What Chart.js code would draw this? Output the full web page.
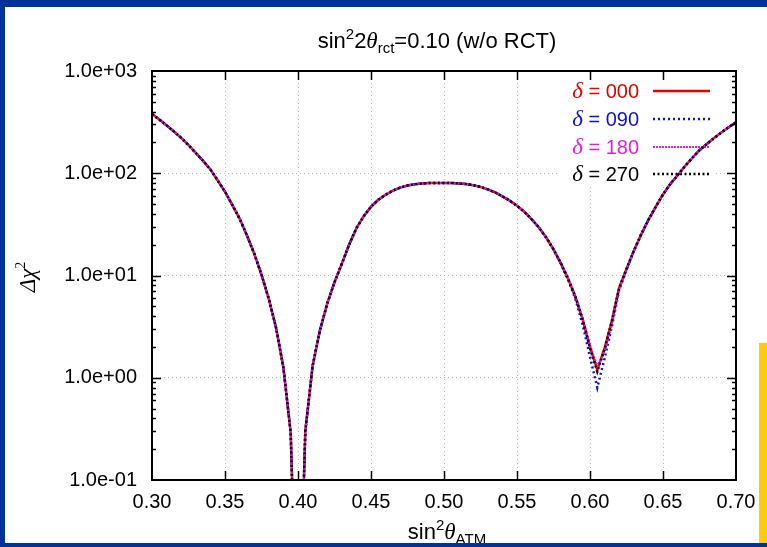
<!DOCTYPE html>
<html>
<head>
<meta charset="utf-8">
<script src="https://cdn.jsdelivr.net/npm/chart.js@4.4.1/dist/chart.umd.min.js"></script>
<style>
  html, body { margin: 0; padding: 0; background: #fff; }
  #wrap { position: relative; width: 767px; height: 547px; overflow: hidden; }
  #plot { position: absolute; left: 0; top: 0; }
  #frame { position: absolute; left: 0; top: 0; width: 762px; height: 536px;
    border-top: 7px solid #003399; border-left: 5px solid #003399; border-bottom: 4px solid #003399;
    pointer-events: none; }
  #bar { position: absolute; left: 759px; top: 343px; width: 8px; height: 200px; background: #ffcc00; }
</style>
</head>
<body>
<div id="wrap">
  <canvas id="plot" width="767" height="547"></canvas>
  <div id="frame"></div>
  <div id="bar"></div>
</div>
<script>
// sin^2 theta_ATM sample points
const sinAtm = [
  0.300, 0.305, 0.310, 0.315, 0.320, 0.325, 0.330, 0.335, 0.340, 0.345,
  0.350, 0.355, 0.360, 0.365, 0.370, 0.375, 0.380, 0.385, 0.390, 0.395,
  0.400, 0.405, 0.410, 0.415, 0.420, 0.425, 0.430, 0.435, 0.440, 0.445,
  0.450, 0.455, 0.460, 0.465, 0.470, 0.475, 0.480, 0.485, 0.490, 0.495,
  0.500, 0.505, 0.510, 0.515, 0.520, 0.525, 0.530, 0.535, 0.540, 0.545,
  0.550, 0.555, 0.560, 0.565, 0.570, 0.575, 0.580, 0.585, 0.590, 0.595,
  0.600, 0.605, 0.610, 0.615, 0.620, 0.625, 0.630, 0.635, 0.640, 0.645,
  0.650, 0.655, 0.660, 0.665, 0.670, 0.675, 0.680, 0.685, 0.690, 0.695,
  0.700];

// delta chi^2 for each delta value
const delta000 = [
  380, 335, 294, 256, 222, 188, 158, 132, 109, 85,
  66, 49, 36, 24.7, 16.4, 10.2, 5.9, 3.07, 1.26, 0.29,
  0.001, 0.30, 1.30, 2.9, 5.3, 8.6, 13, 20, 29, 38,
  47, 55, 61.7, 67.6, 72.4, 75.9, 78.2, 79.4, 80.2, 80.5,
  80.5, 80.3, 79.6, 78.4, 76.5, 73.5, 69.5, 65, 59.5, 54,
  48, 42, 35.5, 29.5, 23.5, 18, 13.2, 9.3, 6.2, 3.7,
  2.0, 1.2, 1.95, 3.6, 7.6, 11.6, 17.4, 25.1, 35, 47,
  62, 78.5, 95.5, 117, 141, 168, 193, 221, 251, 282,
  316];
const delta090 = [
  380, 335, 294, 256, 222, 188, 158, 132, 109, 85,
  66, 49, 36, 24.7, 16.4, 10.2, 5.9, 3.07, 1.26, 0.29,
  0.001, 0.30, 1.30, 2.9, 5.3, 8.6, 13, 20, 29, 38,
  47, 55, 61.7, 67.6, 72.4, 75.9, 78.2, 79.4, 80.2, 80.5,
  80.5, 80.3, 79.6, 78.4, 76.5, 73.5, 69.5, 65, 59.5, 54,
  48, 42, 35.5, 29.5, 23.5, 18, 13.0, 9.1, 5.9, 3.3,
  1.6, 0.8, 1.55, 3.2, 7.2, 11.3, 17.4, 25.1, 35, 47,
  62, 78.5, 95.5, 117, 141, 168, 193, 221, 251, 282,
  316];
const delta180 = [
  380, 335, 294, 256, 222, 188, 158, 132, 109, 85,
  66, 49, 36, 24.7, 16.4, 10.2, 5.9, 3.07, 1.26, 0.29,
  0.001, 0.30, 1.30, 2.9, 5.3, 8.6, 13, 20, 29, 38,
  47, 55, 61.7, 67.6, 72.4, 75.9, 78.2, 79.4, 80.2, 80.5,
  80.5, 80.3, 79.6, 78.4, 76.5, 73.5, 69.5, 65, 59.5, 54,
  48, 42, 35.5, 29.5, 23.5, 18, 13.2, 9.4, 6.3, 3.8,
  2.1, 1.3, 1.8, 3.3, 7.3, 11.3, 17.3, 25, 35, 47,
  62, 78.5, 95.5, 117, 141, 168, 193, 221, 251, 282,
  316];
const delta270 = [
  380, 335, 294, 256, 222, 188, 158, 132, 109, 85,
  66, 49, 36, 24.7, 16.4, 10.2, 5.9, 3.07, 1.26, 0.29,
  0.001, 0.30, 1.30, 2.9, 5.3, 8.6, 13, 20, 29, 38,
  47, 55, 61.7, 67.6, 72.4, 75.9, 78.2, 79.4, 80.2, 80.5,
  80.5, 80.3, 79.6, 78.4, 76.5, 73.5, 69.5, 65, 59.5, 54,
  48, 42, 35.5, 29.5, 23.5, 18, 13.2, 9.3, 6.2, 3.7,
  1.95, 1.15, 1.9, 3.6, 7.6, 11.6, 17.4, 25.1, 35, 47,
  62, 78.5, 95.5, 117, 141, 168, 193, 221, 251, 282,
  316];

const legendValues = ['000', '090', '180', '270'];
const xTicks = [0.30, 0.35, 0.40, 0.45, 0.50, 0.55, 0.60, 0.65, 0.70];
const yTicks = [0.1, 1, 10, 100, 1000];
const yTickLabels = ['1.0e-01', '1.0e+00', '1.0e+01', '1.0e+02', '1.0e+03'];

const SANS = '"Liberation Sans", Arial, sans-serif';
const SERIF = '"Liberation Serif", "DejaVu Serif", serif';

function pts(ys) {
    return sinAtm.map((x, i) => ({ x: x, y: ys[i] }));
}

// text built from several pieces (for super/subscripts)
function richText(ctx, parts, x, y, align) {
    let total = 0;
    parts.forEach(p => { ctx.font = p.font; p.w = ctx.measureText(p.t).width; total += p.w; });
    let cx = align === 'center' ? x - total / 2 : (align === 'right' ? x - total : x);
    ctx.textAlign = 'left';
    ctx.textBaseline = 'alphabetic';
    parts.forEach(p => {
        ctx.font = p.font;
        ctx.fillStyle = p.color || '#000';
        ctx.fillText(p.t, cx, y + (p.dy || 0));
        cx += p.w;
    });
}

const gnuplotLook = {
    id: 'gnuplotLook',
    beforeDatasetsDraw(chart) {
        const ctx = chart.ctx;
        const area = chart.chartArea;
        ctx.save();
        // key box hides the grid behind it
        ctx.fillStyle = '#fff';
        ctx.fillRect(area.right - 178, area.top + 7, 156, 109);
        const rowY = [91, 119, 147, 174];
        chart.data.datasets.forEach((ds, i) => {
            const y = rowY[i];
            richText(ctx, [
                { t: '\u03b4', font: 'italic 23px ' + SERIF, color: ds.borderColor },
                { t: ' = ' + legendValues[i], font: '20px ' + SANS, color: ds.borderColor }
            ], area.right - 97, y + 7, 'right');
            ctx.strokeStyle = ds.borderColor;
            ctx.lineWidth = ds.borderWidth;
            ctx.setLineDash(ds.borderDash || []);
            ctx.beginPath();
            ctx.moveTo(area.right - 83, y);
            ctx.lineTo(area.right - 26, y);
            ctx.stroke();
        });
        ctx.restore();
    },
    afterDatasetsDraw(chart) {
        const ctx = chart.ctx;
        const area = chart.chartArea;
        const xs = chart.scales.x;
        const ys = chart.scales.y;
        ctx.save();
        ctx.strokeStyle = '#000';
        ctx.setLineDash([]);
        ctx.lineWidth = 1.5;
        ctx.beginPath();
        xTicks.slice(1, -1).forEach(v => {
            const px = Math.round(xs.getPixelForValue(v)) + 0.5;
            ctx.moveTo(px, area.bottom); ctx.lineTo(px, area.bottom - 9);
            ctx.moveTo(px, area.top); ctx.lineTo(px, area.top + 9);
        });
        yTicks.forEach((d, k) => {
            if (k > 0 && k < yTicks.length - 1) {
                const py = Math.round(ys.getPixelForValue(d)) + 0.5;
                ctx.moveTo(area.left, py); ctx.lineTo(area.left + 9, py);
                ctx.moveTo(area.right, py); ctx.lineTo(area.right - 9, py);
            }
            if (k < yTicks.length - 1) {
                for (let m = 2; m <= 9; m++) {
                    const py = Math.round(ys.getPixelForValue(m * d)) + 0.5;
                    ctx.moveTo(area.left, py); ctx.lineTo(area.left + 4, py);
                    ctx.moveTo(area.right, py); ctx.lineTo(area.right - 4, py);
                }
            }
        });
        ctx.stroke();
        ctx.lineWidth = 2;
        ctx.strokeRect(area.left, area.top, area.right - area.left, area.bottom - area.top);
        ctx.restore();
    },
    afterDraw(chart) {
        const ctx = chart.ctx;
        const area = chart.chartArea;
        const mid = (area.left + area.right) / 2;
        ctx.save();
        // title
        richText(ctx, [
            { t: 'sin', font: '22px ' + SANS },
            { t: '2', font: '15px ' + SANS, dy: -9 },
            { t: '2', font: '22px ' + SANS },
            { t: '\u03b8', font: 'italic 23px ' + SERIF },
            { t: 'rct', font: '15px ' + SANS, dy: 5 },
            { t: '=0.10 (w/o RCT)', font: '22px ' + SANS }
        ], mid - 7, 48, 'center');
        // x axis title
        richText(ctx, [
            { t: 'sin', font: '22px ' + SANS },
            { t: '2', font: '15px ' + SANS, dy: -9 },
            { t: '\u03b8', font: 'italic 23px ' + SERIF },
            { t: 'ATM', font: '15px ' + SANS, dy: 5 }
        ], mid + 3, 539, 'center');
        // y axis title, rotated
        ctx.translate(35, 277);
        ctx.rotate(-Math.PI / 2);
        richText(ctx, [
            { t: '\u0394\u03c7', font: 'italic 23px ' + SERIF },
            { t: '2', font: '14px ' + SERIF, dy: -10 }
        ], 0, 0, 'center');
        ctx.restore();
    }
};

const tickFont = { family: SANS, size: 20 };

const config = {
    type: 'line',
    data: {
        datasets: [
            { data: pts(delta000), borderColor: '#e00000', borderWidth: 2.5, order: 4 },
            { data: pts(delta090), borderColor: '#1010c8', borderWidth: 2.5, borderDash: [2, 3], order: 3 },
            { data: pts(delta180), borderColor: '#e020e0', borderWidth: 2, borderDash: [2, 1], order: 2 },
            { data: pts(delta270), borderColor: '#000000', borderWidth: 2.5, borderDash: [2, 2.5], order: 1 }
        ]
    },
    options: {
        responsive: false,
        animation: false,
        events: [],
        elements: { point: { radius: 0 }, line: { tension: 0 } },
        layout: { padding: { left: 0, top: 71, right: 31, bottom: 0 } },
        plugins: { legend: { display: false }, tooltip: { enabled: false } },
        scales: {
            x: {
                type: 'linear',
                min: 0.3,
                max: 0.7,
                afterFit(s) { s.height = 67; },
                afterBuildTicks(s) { s.ticks = xTicks.map(v => ({ value: v })); },
                ticks: {
                    callback: v => v.toFixed(2),
                    font: tickFont,
                    color: '#000',
                    padding: 10,
                    maxRotation: 0,
                    autoSkip: false
                },
                grid: { color: '#b8b8b8', lineWidth: 1, drawTicks: false },
                border: { display: false, dash: [1, 3] }
            },
            y: {
                type: 'logarithmic',
                min: 0.1,
                max: 1000,
                afterFit(s) { s.width = 152; },
                afterBuildTicks(s) { s.ticks = yTicks.map(v => ({ value: v })); },
                ticks: {
                    callback: (v, i) => yTickLabels[i],
                    font: tickFont,
                    color: '#000',
                    padding: 15,
                    autoSkip: false
                },
                grid: { color: '#b8b8b8', lineWidth: 1, drawTicks: false },
                border: { display: false, dash: [1, 3] }
            }
        }
    },
    plugins: [gnuplotLook]
};

new Chart(document.getElementById('plot').getContext('2d'), config);
</script>
</body>
</html>
